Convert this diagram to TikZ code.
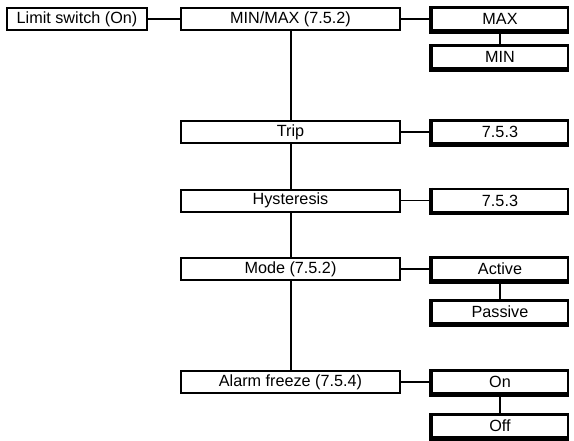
\documentclass[tikz,border=0pt]{standalone}
\usepackage{fontspec}
\setmainfont{Liberation Sans}
\usetikzlibrary{positioning}

\begin{document}
\begin{tikzpicture}[
    x=0.5pt, y=-0.5pt,
    font=\fontsize{8.1}{9.7}\selectfont,
    startbox/.style={
        draw=black,
        fill=white,
        line width=1pt,
        inner sep=0pt,
        minimum width=70pt,
        minimum height=11pt
    },
    menubox/.style={
        draw=black,
        fill=white,
        line width=1pt,
        inner sep=0pt,
        minimum width=109.5pt,
        minimum height=11pt
    },
    valuebox/.style={
        draw=black,
        fill=white,
        line width=1.1pt,
        inner sep=0pt,
        minimum width=68pt,
        minimum height=11.5pt
    },
    link/.style={
        draw=black,
        line width=0.6pt
    },
    trunk/.style={
        draw=black,
        line width=1pt
    }
]

\useasboundingbox (0,0) rectangle (574,440);

% ------------------------------------------------------------
% Left: entry point and menu column
% ------------------------------------------------------------
\node[startbox] (limit) at (77,19) {Limit switch (On)};

\node[menubox] (minmax) at (290.5,19)  {MIN/MAX (7.5.2)};
\node[menubox] (trip)   at (290.5,132) {Trip};
\node[menubox] (hyst)   at (290.5,200.5) {Hysteresis};
\node[menubox] (mode)   at (290.5,269) {Mode (7.5.2)};
\node[menubox] (freeze) at (290.5,382) {Alarm freeze (7.5.4)};

% ------------------------------------------------------------
% Right: values
% ------------------------------------------------------------
\node[valuebox] (max)     at (500,19)    {MAX};
\node[valuebox] (min)     at (500,57)    {MIN};
\node[valuebox] (tripval) at (500,132)   {7.5.3};
\node[valuebox] (hystval) at (500,200.5) {7.5.3};
\node[valuebox] (active)  at (500,269)   {Active};
\node[valuebox] (passive) at (500,312)   {Passive};
\node[valuebox] (on)      at (500,382)   {On};
\node[valuebox] (off)     at (500,426)   {Off};

% heavy left and bottom edges of the value boxes
\foreach \v in {max,min,tripval,hystval,active,passive,on,off}
    \draw[line width=2.2pt] (\v.north west) -- (\v.south west) -- (\v.south east);

% connectors
\draw[link] (limit) -- (minmax);
\draw[link] (minmax) -- (max);
\draw[link] (trip) -- (tripval);
\draw[link] (hyst) -- (hystval);
\draw[link] (mode) -- (active);
\draw[link] (freeze) -- (on);

\draw[trunk] (max) -- (min);
\draw[trunk] (active) -- (passive);
\draw[trunk] (on) -- (off);

\draw[trunk] (minmax) -- (trip);
\draw[trunk] (trip) -- (hyst);
\draw[trunk] (hyst) -- (mode);
\draw[trunk] (mode) -- (freeze);

\end{tikzpicture}
\end{document}
